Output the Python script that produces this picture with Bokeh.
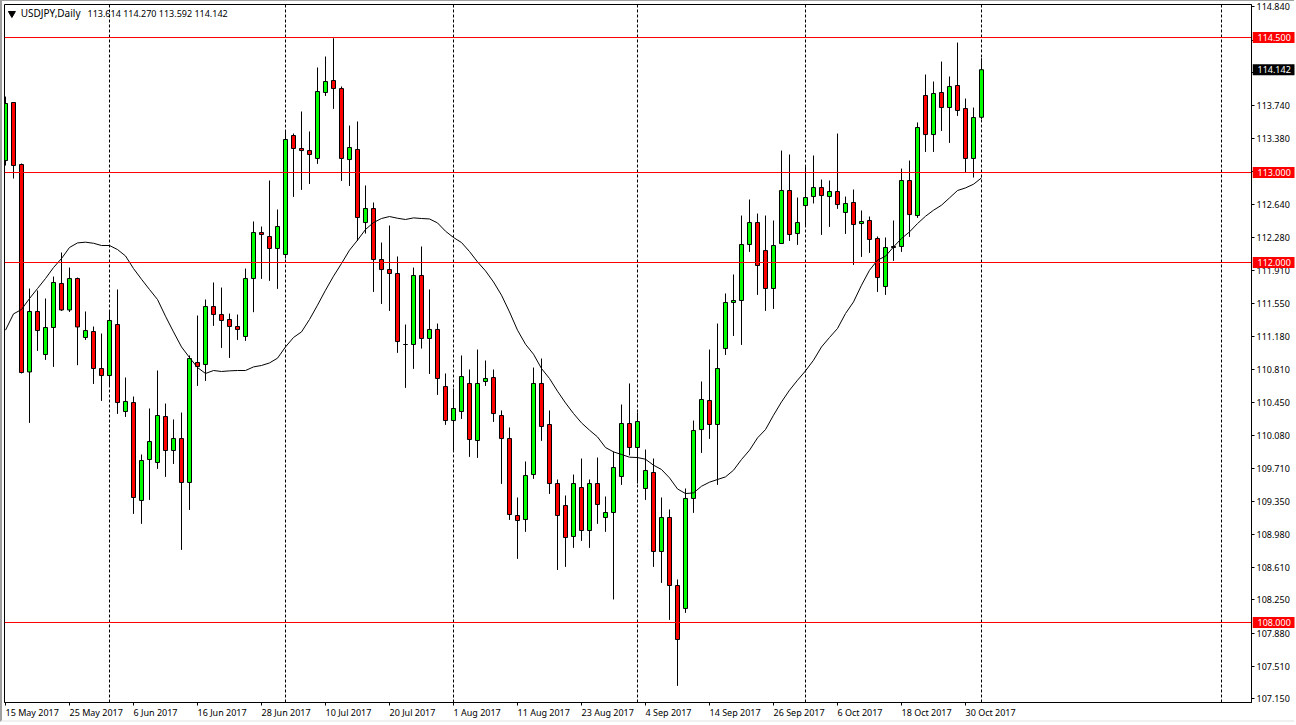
from bokeh.core.properties import value
from bokeh.embed import file_html
from bokeh.models import ColumnDataSource, FixedTicker, Label, Range1d
from bokeh.plotting import figure
from bokeh.resources import INLINE

# bars 0..122
opens = [113.133, 113.778, 113.089, 110.784, 111.456, 110.978, 111.278, 111.767, 111.473, 111.822,
         111.167, 111.233, 110.822, 110.744, 111.311, 110.344, 110.444, 109.356, 109.811, 109.778,
         110.289, 109.911, 110.044, 109.556, 110.889, 110.867, 111.511, 111.422, 111.367, 111.289,
         111.178, 111.822, 112.333, 112.289, 112.156, 112.089, 113.411, 113.267, 113.244, 113.156,
         113.889, 114.022, 113.933, 113.144, 113.256, 112.444, 112.6, 112.033, 111.922, 111.878,
         111.089, 111.089, 111.856, 111.156, 111.256, 110.622, 110.244, 110.344, 110.656, 110.022,
         110.678, 110.722, 110.3, 110.044, 109.189, 109.144, 109.644, 110.656, 110.2, 109.544,
         109.3, 108.956, 109.5, 109.022, 109.544, 109.167, 109.222, 109.622, 110.211, 109.944,
         109.489, 109.667, 108.789, 109.167, 108.411, 108.156, 109.378, 110.144, 110.467, 110.2,
         111.044, 111.556, 111.578, 112.2, 112.444, 112.133, 111.711, 112.211, 112.8, 112.322,
         112.633, 112.733, 112.833, 112.733, 112.789, 112.556, 112.667, 112.433, 112.467, 112.267,
         111.733, 112.178, 112.178, 112.911, 112.522, 113.856, 113.422, 113.889, 113.722, 113.967,
         113.711, 113.156, 113.614]
highs = [113.844, 113.778, 113.1, 111.711, 111.689, 111.6, 111.844, 112.111, 111.944, 111.833,
         111.456, 111.289, 111.211, 111.467, 111.7, 110.722, 110.511, 109.867, 110.378, 110.8,
         110.433, 110.256, 110.333, 110.967, 111.411, 111.589, 111.778, 111.722, 111.433, 111.422,
         111.933, 112.456, 112.4, 112.911, 112.589, 113.467, 113.433, 113.678, 113.456, 114.167,
         114.289, 114.492, 113.956, 113.522, 113.567, 112.856, 112.667, 112.222, 112.411, 112.067,
         111.311, 111.944, 112.178, 111.7, 111.322, 110.767, 110.6, 110.967, 110.811, 111.033,
         110.911, 110.811, 110.356, 110.167, 109.389, 109.789, 110.833, 110.933, 110.356, 109.589,
         109.411, 109.644, 109.822, 109.589, 109.833, 109.4, 109.9, 110.422, 110.656, 110.333,
         109.922, 109.822, 109.389, 109.256, 108.478, 109.489, 110.244, 110.678, 111.033, 111.322,
         111.656, 111.867, 112.522, 112.7, 112.544, 112.522, 112.467, 113.244, 113.2, 112.722,
         113.081, 113.189, 112.922, 112.911, 113.433, 112.733, 112.811, 112.578, 112.511, 112.289,
         112.278, 112.467, 113.044, 113.133, 113.556, 114.089, 114.011, 114.233, 114.067, 114.444,
         113.822, 113.722, 114.27]
lows = [113.078, 112.933, 110.767, 110.218, 111.018, 110.918, 110.84, 111.462, 111.451, 110.859,
        111.14, 110.651, 110.462, 110.618, 110.318, 110.284, 109.207, 109.096, 109.362, 109.707,
        109.618, 109.762, 108.807, 109.251, 110.629, 110.684, 111.296, 111.051, 110.94, 111.14,
        111.129, 111.448, 111.818, 111.796, 111.707, 112.044, 112.729, 112.807, 112.873, 113.096,
        113.851, 113.707, 112.907, 112.851, 112.24, 112.322, 111.673, 111.54, 111.462, 110.996,
        110.607, 110.818, 111.044, 110.762, 110.529, 110.196, 109.907, 110.262, 109.84, 109.829,
        110.629, 110.229, 109.54, 109.14, 108.707, 109.007, 109.596, 110.018, 109.429, 108.584,
        108.618, 108.829, 108.907, 108.829, 109.096, 109.007, 108.256, 109.529, 109.856, 109.544,
        109.362, 108.618, 108.44, 108.029, 107.296, 108.107, 109.218, 109.884, 110.04, 109.529,
        110.973, 111.184, 111.084, 112.118, 111.64, 111.462, 111.484, 112.211, 112.24, 112.196,
        112.396, 112.656, 112.307, 112.396, 112.596, 112.318, 111.973, 112.062, 112.107, 111.673,
        111.64, 112.018, 112.118, 112.284, 112.496, 113.229, 113.229, 113.462, 113.329, 113.629,
        113.0, 112.944, 113.592]
closes = [113.767, 113.078, 110.778, 111.456, 111.244, 111.278, 111.778, 111.473, 111.822, 111.284,
          111.244, 110.822, 110.744, 111.356, 110.444, 110.456, 109.389, 109.8, 110.011, 110.3,
          109.911, 110.044, 109.556, 110.933, 110.844, 111.511, 111.422, 111.356, 111.289, 111.256,
          111.822, 112.333, 112.311, 112.156, 112.4, 113.367, 113.267, 113.244, 113.2, 113.9,
          114.011, 113.933, 113.156, 113.278, 112.5, 112.6, 112.033, 111.922, 111.878, 111.122,
          111.089, 111.856, 111.156, 111.256, 110.711, 110.244, 110.378, 110.733, 110.033, 110.656,
          110.711, 110.322, 110.044, 109.2, 109.133, 109.633, 110.656, 110.178, 109.544, 109.189,
          108.944, 109.544, 109.022, 109.544, 109.311, 109.222, 109.722, 110.211, 109.944, 110.233,
          109.689, 108.789, 109.167, 108.411, 107.811, 109.378, 110.133, 110.478, 110.2, 110.822,
          111.556, 111.578, 112.2, 112.444, 111.967, 111.711, 112.189, 112.8, 112.311, 112.444,
          112.722, 112.833, 112.744, 112.789, 112.644, 112.656, 112.422, 112.456, 112.256, 111.833,
          112.167, 112.167, 112.911, 112.533, 113.5, 113.422, 113.878, 113.722, 113.956, 113.689,
          113.156, 113.611, 114.142]
moving_avg = [111.248, 111.429, 111.478, 111.6, 111.711, 111.822, 111.944, 112.044, 112.167, 112.218,
              112.226, 112.214, 112.189, 112.189, 112.144, 112.073, 111.933, 111.814, 111.7, 111.589,
              111.403, 111.229, 111.062, 110.944, 110.833, 110.767, 110.8, 110.789, 110.796, 110.8,
              110.8, 110.84, 110.856, 110.884, 110.937, 111.062, 111.167, 111.229, 111.367, 111.526,
              111.692, 111.848, 111.989, 112.137, 112.248, 112.367, 112.444, 112.489, 112.511, 112.492,
              112.478, 112.496, 112.489, 112.484, 112.44, 112.348, 112.278, 112.222, 112.122, 112.007,
              111.907, 111.784, 111.637, 111.451, 111.248, 111.092, 110.981, 110.822, 110.711, 110.57,
              110.44, 110.322, 110.218, 110.137, 110.062, 109.944, 109.896, 109.867, 109.837, 109.833,
              109.814, 109.748, 109.7, 109.607, 109.484, 109.433, 109.44, 109.514, 109.559, 109.589,
              109.618, 109.692, 109.811, 109.914, 110.051, 110.144, 110.303, 110.451, 110.581, 110.692,
              110.796, 110.914, 111.062, 111.167, 111.267, 111.433, 111.562, 111.748, 111.914, 112.026,
              112.07, 112.173, 112.267, 112.34, 112.433, 112.514, 112.581, 112.637, 112.718, 112.8,
              112.829, 112.87, 112.94]

date_ticks = [0, 8, 16, 24, 32, 40, 48, 56, 64, 72, 80, 88, 96, 104, 112, 120]
date_labels = ["15 May 2017", "25 May 2017", "6 Jun 2017", "16 Jun 2017", "28 Jun 2017", "10 Jul 2017",
               "20 Jul 2017", "1 Aug 2017", "11 Aug 2017", "23 Aug 2017", "4 Sep 2017", "14 Sep 2017",
               "26 Sep 2017", "6 Oct 2017", "18 Oct 2017", "30 Oct 2017"]
month_starts = [13, 35, 56, 79, 100, 122, 152]
price_ticks = [114.84, 114.47, 114.11, 113.74, 113.38, 113.01, 112.64, 112.28, 111.91, 111.55, 111.18,
               110.81, 110.45, 110.08, 109.71, 109.35, 108.98, 108.61, 108.25, 107.88, 107.51, 107.15]
hidden_ticks = [114.47, 114.11, 113.01]  # covered by the coloured price boxes
levels = [108.0, 112.0, 113.0, 114.5]
last_close = closes[-1]

FONT = "Noto Sans"
SIZE = "9px"
X_MIN, X_MAX = -0.125, 155.75
Y_MIN, Y_MAX = 107.111, 114.867

p = figure(width=1294, height=722, output_backend="svg", toolbar_location=None,
           x_range=Range1d(X_MIN, X_MAX), y_range=Range1d(Y_MIN, Y_MAX),
           y_axis_location="right", min_border_left=2, min_border_right=45,
           min_border_top=3, min_border_bottom=21)
p.styles = {"border-left": "2px solid #a0a0a0",
            "border-top": "1px solid #a0a0a0", "border-bottom": "2px solid #f0f0f0"}
p.grid.visible = False
p.outline_line_color = "black"
p.outline_line_alpha = 1.0

# month separators sit behind the bars
p.segment(month_starts, [Y_MIN] * len(month_starts), month_starts, [Y_MAX] * len(month_starts),
          line_color="black", line_width=1, line_dash="3 2", level="underlay")

idx = list(range(len(closes)))
up = [c >= o for o, c in zip(opens, closes)]
source = ColumnDataSource(data=dict(
    idx=idx, high=highs, low=lows,
    top=[max(o, c) for o, c in zip(opens, closes)],
    bottom=[min(o, c) for o, c in zip(opens, closes)],
    color=["#00ff00" if u else "#ff0000" for u in up],
))
p.segment("idx", "high", "idx", "low", source=source, line_color="black", line_width=1)
p.vbar("idx", width=0.5, top="top", bottom="bottom", source=source, fill_color="color",
       line_color="black", line_width=1)
p.line(idx, moving_avg, line_color="black", line_width=1)

# horizontal levels on top of the bars
p.segment([X_MIN] * len(levels), levels, [X_MAX] * len(levels), levels, line_color="#ff0000", line_width=1)

xa = p.xaxis[0]
xa.ticker = FixedTicker(ticks=date_ticks)
xa.major_label_overrides = {t: "" for t in date_ticks}
xa.major_tick_in = 0
xa.major_tick_out = 3
xa.minor_tick_out = 0
xa.minor_tick_in = 0
xa.axis_line_color = "black"
xa.major_tick_line_color = "black"

ya = p.yaxis[0]
ya.ticker = FixedTicker(ticks=price_ticks)
ya.major_label_overrides = {t: ("" if t in hidden_ticks else f"{t:.3f}") for t in price_ticks}
ya.major_tick_in = 0
ya.major_tick_out = 3
ya.minor_tick_out = 0
ya.minor_tick_in = 0
ya.major_label_standoff = 2
ya.axis_line_color = "black"
ya.major_tick_line_color = "black"
ya.major_label_text_font = FONT
ya.major_label_text_font_size = SIZE
ya.major_label_text_color = "black"

# chart header
p.scatter([0.8], [114.767], marker="inverted_triangle", size=7, fill_color="black", line_color="black")
p.add_layout(Label(x=1.9, y=114.7, text="USDJPY,Daily", text_font=FONT, text_font_size="10px", text_color="black"))
p.add_layout(Label(x=10.25, y=114.7, text=f"{opens[-1]:.3f} {highs[-1]:.3f} {lows[-1]:.3f} {closes[-1]:.3f}",
                   text_font=FONT, text_font_size=SIZE, text_color="black"))

# date labels, left-aligned at their tick: own strip under the frame, sharing the x range
dates = figure(width=1247, height=18, output_backend="svg", toolbar_location=None,
               x_range=p.x_range, y_range=Range1d(0, 18), x_axis_type=None, y_axis_type=None,
               min_border=0, outline_line_color=None, background_fill_color=None, border_fill_color=None)
dates.grid.visible = False
dates.text(date_ticks, [10.3] * len(date_ticks), text=date_labels, text_font=value(FONT), text_font_size=value(SIZE),
           text_color="black", text_align="left", text_baseline="middle")
dates.styles = {"position": "absolute", "left": "4px", "top": "704px"}

# price boxes: own strip right of the frame, sharing the y range
box_prices = levels + [last_close]
box_colors = ["#ff0000"] * len(levels) + ["#000000"]
boxes = figure(width=43, height=698, output_backend="svg", toolbar_location=None,
               x_range=Range1d(0, 43), y_range=p.y_range, x_axis_type=None, y_axis_type=None,
               min_border=0, outline_line_color=None, background_fill_color=None, border_fill_color=None)
boxes.grid.visible = False
boxes.rect([21] * len(box_prices), box_prices, width=42, height=11, height_units="screen",
           fill_color=box_colors, line_color=None)
boxes.text([5] * len(box_prices), box_prices, text=[f"{v:.3f}" for v in box_prices], text_font=value(FONT),
           text_font_size=value(SIZE), text_color="white", text_align="left", text_baseline="middle")
boxes.styles = {"position": "absolute", "left": "1252px", "top": "4px"}

open("out.html", "w").write(file_html([p, dates, boxes], INLINE))
